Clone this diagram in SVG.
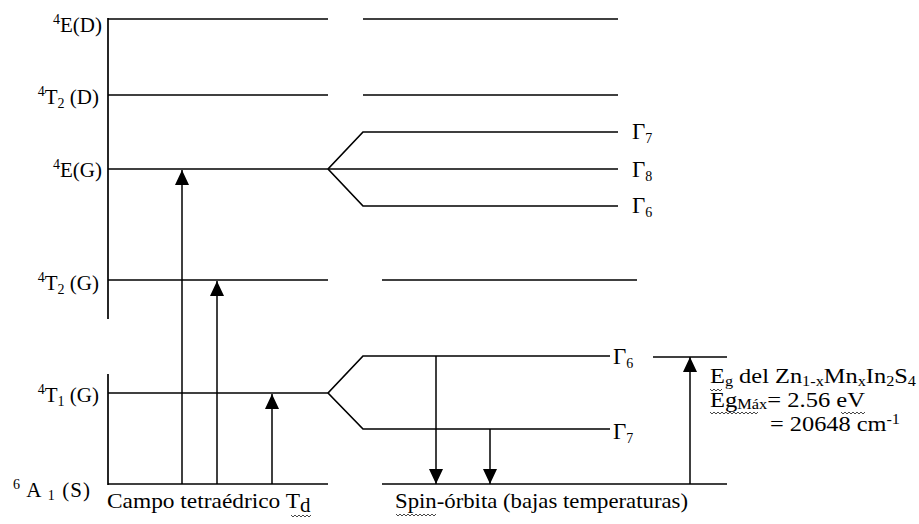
<svg xmlns="http://www.w3.org/2000/svg" width="919" height="524" viewBox="0 0 919 524">
<defs>
<marker id="ah" markerUnits="userSpaceOnUse" markerWidth="15" markerHeight="15" refX="15" refY="7" orient="auto">
<path d="M0,0 L15,7 L0,14 z" fill="#000"/>
</marker>
<style>
.l{stroke:#000;stroke-width:1.7;fill:none}
.a{stroke:#000;stroke-width:1.5;fill:none;marker-end:url(#ah)}
.t{font-family:"Liberation Serif","Times New Roman",serif;font-size:21px;fill:#000}
.s{font-size:14px}
.g{font-size:23px}
.w{stroke:#333;stroke-width:0.9;fill:none}
</style>
</defs>
<rect width="919" height="524" fill="#fff"/>

<g id="axis">
<line class="l" x1="108" y1="18" x2="108" y2="319"/>
<line class="l" x1="108" y1="374" x2="108" y2="485"/>
</g>

<g id="level-4ED">
<line class="l" x1="108" y1="19" x2="328" y2="19"/>
<line class="l" x1="363" y1="19" x2="618" y2="19"/>
<text class="t" x="102" y="32" text-anchor="end"><tspan class="s" dy="-8">4</tspan><tspan dy="8">E(D)</tspan></text>
</g>

<g id="level-4T2D">
<line class="l" x1="108" y1="95" x2="328" y2="95"/>
<line class="l" x1="363" y1="95" x2="618" y2="95"/>
<text class="t" x="99" y="104" text-anchor="end"><tspan class="s" dy="-8">4</tspan><tspan dy="8">T</tspan><tspan class="s" dy="4">2</tspan><tspan dy="-4"> (D)</tspan></text>
</g>

<g id="level-4EG">
<polyline class="l" points="108,169 328,169"/>
<polyline class="l" points="328,169 363,132 618,132"/>
<polyline class="l" points="328,169 618,169"/>
<polyline class="l" points="328,169 363,206 618,206"/>
<text class="t" x="102" y="177" text-anchor="end"><tspan class="s" dy="-8">4</tspan><tspan dy="8">E(G)</tspan></text>
<text class="t g" x="632" y="139">Γ<tspan class="s" dy="4">7</tspan></text>
<text class="t g" x="632" y="177">Γ<tspan class="s" dy="4">8</tspan></text>
<text class="t g" x="632" y="213">Γ<tspan class="s" dy="4">6</tspan></text>
</g>

<g id="level-4T2G">
<line class="l" x1="108" y1="280" x2="328" y2="280"/>
<line class="l" x1="382" y1="280" x2="637" y2="280"/>
<text class="t" x="99" y="290" text-anchor="end"><tspan class="s" dy="-8">4</tspan><tspan dy="8">T</tspan><tspan class="s" dy="4">2</tspan><tspan dy="-4"> (G)</tspan></text>
</g>

<g id="level-4T1G">
<polyline class="l" points="108,393 328,393"/>
<polyline class="l" points="328,393 363,356 610,356"/>
<polyline class="l" points="328,393 363,429 610,429"/>
<line class="l" x1="653" y1="357" x2="727" y2="357"/>
<text class="t" x="99" y="402" text-anchor="end"><tspan class="s" dy="-8">4</tspan><tspan dy="8">T</tspan><tspan class="s" dy="4">1</tspan><tspan dy="-4"> (G)</tspan></text>
<text class="t g" x="613" y="364">Γ<tspan class="s" dy="4">6</tspan></text>
<text class="t g" x="613" y="439">Γ<tspan class="s" dy="4">7</tspan></text>
</g>

<g id="level-6A1S">
<line class="l" x1="108" y1="484" x2="328" y2="484"/>
<line class="l" x1="382" y1="484" x2="727" y2="484"/>
<text class="t" x="13" y="497" textLength="77"><tspan class="s" dy="-8">6</tspan><tspan dy="8"> A </tspan><tspan class="s" dy="3">1</tspan><tspan dy="-3"> (S)</tspan></text>
</g>

<g id="connectors">
<line class="a" x1="182" y1="484" x2="182" y2="170"/>
<line class="a" x1="217" y1="484" x2="217" y2="281"/>
<line class="a" x1="272" y1="484" x2="272" y2="394"/>
<line class="a" x1="436" y1="356" x2="436" y2="484"/>
<line class="a" x1="490" y1="429" x2="490" y2="484"/>
<line class="a" x1="690" y1="484" x2="690" y2="357"/>
</g>

<g id="captions">
<text class="t" x="107" y="508" textLength="193" lengthAdjust="spacingAndGlyphs">Campo tetraédrico T</text>
<text class="t" x="300" y="512" font-size="15">d</text>
<path class="w" d="M291,515 l2,2 l2,-2 l2,2 l2,-2 l2,2 l2,-2 l2,2 l2,-2 l2,2 l2,-2"/>
<text class="t" x="395" y="508" textLength="293" lengthAdjust="spacingAndGlyphs">Spin-órbita (bajas temperaturas)</text>
<path class="w" d="M396,514 l2,2 l2,-2 l2,2 l2,-2 l2,2 l2,-2 l2,2 l2,-2 l2,2 l2,-2 l2,2 l2,-2 l2,2 l2,-2 l2,2 l2,-2 l2,2 l2,-2 l2,2 l2,-2"/>
</g>

<g id="energy-label">
<text class="t" x="710" y="383" font-size="20" textLength="206" lengthAdjust="spacingAndGlyphs">E<tspan class="s" dy="3">g</tspan><tspan dy="-3"> del Zn</tspan><tspan class="s" dy="3">1-x</tspan><tspan dy="-3">Mn</tspan><tspan class="s" dy="3">x</tspan><tspan dy="-3">In</tspan><tspan class="s" dy="3">2</tspan><tspan dy="-3">S</tspan><tspan class="s" dy="3">4</tspan></text>
<path class="w" d="M710,389 l2,2 l2,-2 l2,2 l2,-2 l2,2 l2,-2"/>
<text class="t" x="710" y="407" font-size="20" textLength="155" lengthAdjust="spacingAndGlyphs">Eg<tspan class="s" dy="2">Máx</tspan><tspan dy="-2">= 2.56 eV</tspan></text>
<path class="w" d="M710,412 l2,2 l2,-2 l2,2 l2,-2 l2,2 l2,-2 l2,2 l2,-2 l2,2 l2,-2 l2,2 l2,-2 l2,2 l2,-2 l2,2 l2,-2 l2,2 l2,-2 l2,2 l2,-2 l2,2 l2,-2 l2,2 l2,-2"/>
<path class="w" d="M841,412 l2,2 l2,-2 l2,2 l2,-2 l2,2 l2,-2 l2,2 l2,-2 l2,2 l2,-2 l2,2 l2,-2"/>
<text class="t" x="770" y="431" font-size="20" textLength="130" lengthAdjust="spacingAndGlyphs">= 20648 cm<tspan class="s" dy="-7">-1</tspan></text>
</g>
</svg>
